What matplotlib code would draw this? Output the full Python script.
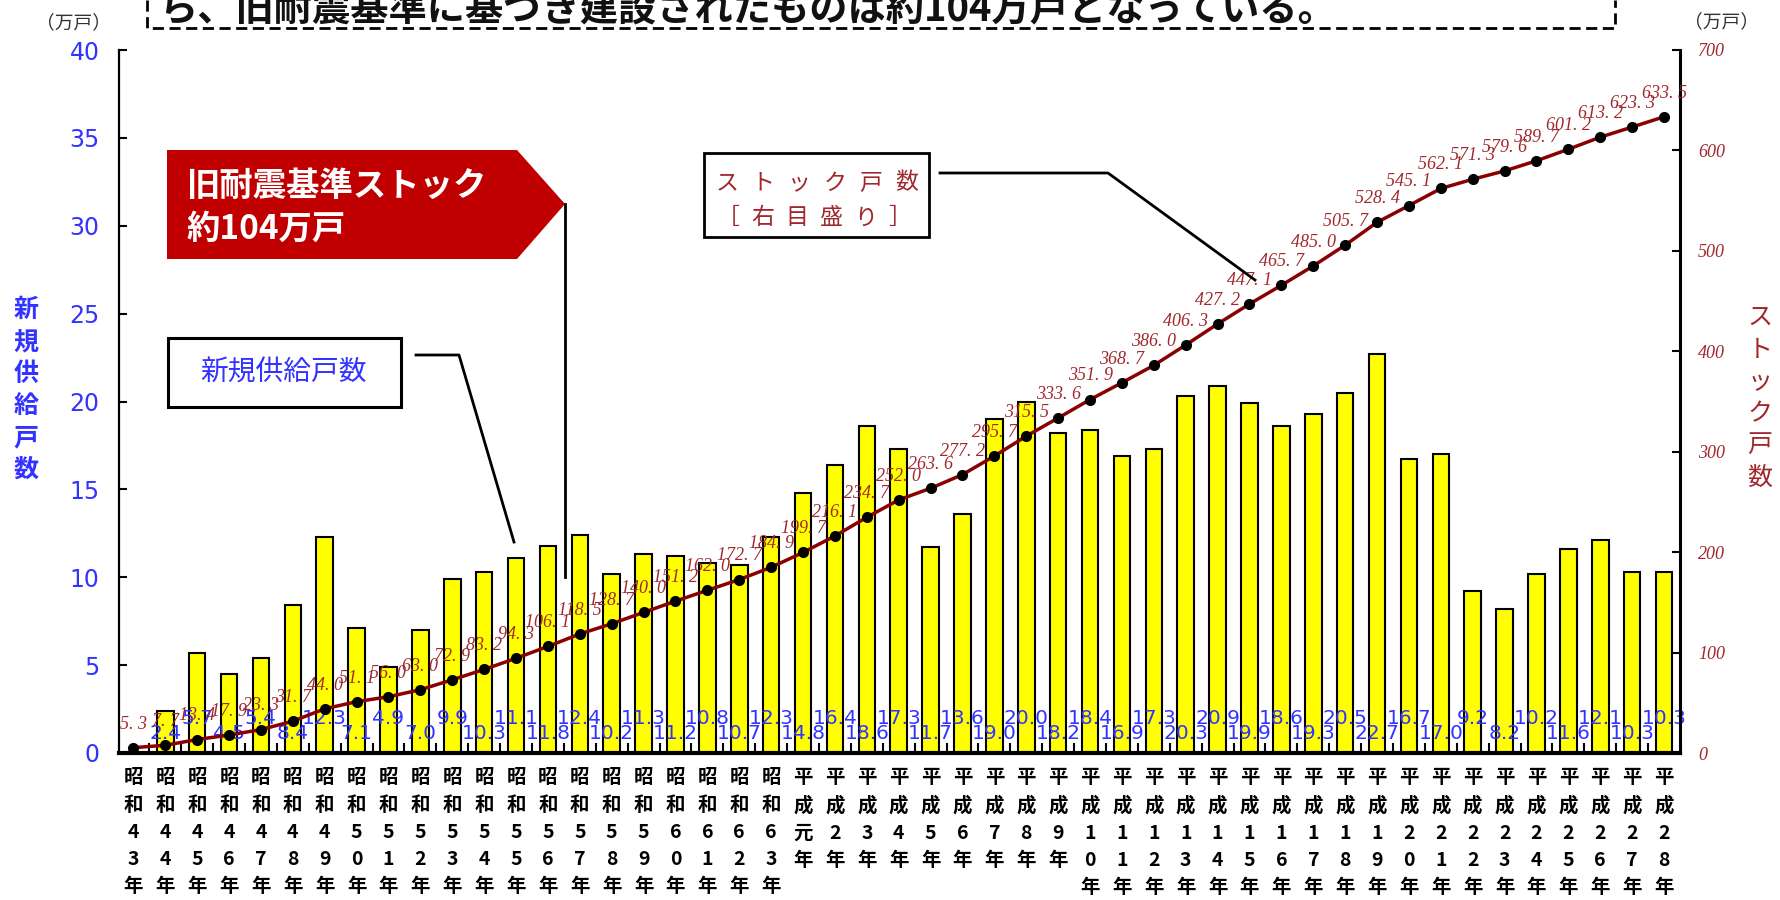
import numpy as np
import matplotlib
matplotlib.use('Agg')
import matplotlib.pyplot as plt
import matplotlib.patches as patches

plt.rcParams['font.family'] = ['Noto Sans CJK JP', 'DejaVu Sans']

# 年次（昭和43年〜平成28年）
showa_years = ['昭和%d年' % y for y in range(43, 64)]
heisei_years = ['平成元年'] + ['平成%d年' % y for y in range(2, 29)]
years = showa_years + heisei_years

# 新規供給戸数（万戸）  昭和43年は棒なし
new_supply = [np.nan, 2.4, 5.7, 4.5, 5.4, 8.4, 12.3, 7.1, 4.9, 7.0, 9.9,
              10.3, 11.1, 11.8, 12.4, 10.2, 11.3, 11.2, 10.8, 10.7, 12.3,
              14.8, 16.4, 18.6, 17.3, 11.7, 13.6, 19.0, 20.0, 18.2, 18.4,
              16.9, 17.3, 20.3, 20.9, 19.9, 18.6, 19.3, 20.5, 22.7, 16.7,
              17.0, 9.2, 8.2, 10.2, 11.6, 12.1, 10.3, 10.3]

# ストック戸数（万戸）
stock = [5.3, 7.7, 13.4, 17.9, 23.3, 31.7, 44.0, 51.1, 56.0, 63.0,
         72.9, 83.2, 94.3, 106.1, 118.5, 128.7, 140.0, 151.2, 162.0, 172.7,
         184.9, 199.7, 216.1, 234.7, 252.0, 263.6, 277.2, 295.7, 315.5, 333.6,
         351.9, 368.7, 386.0, 406.3, 427.2, 447.1, 465.7, 485.0, 505.7, 528.4,
         545.1, 562.1, 571.3, 579.6, 589.7, 601.2, 613.2, 623.3, 633.5]

BLUE = '#3333FF'
DARKRED = '#8B0000'
LABELRED = '#A0282D'

W, H = 1781, 900
fig = plt.figure(figsize=(W / 100, H / 100), dpi=100)
ax = fig.add_axes([119 / W, 1 - 753 / H, (1680 - 119) / W, (753 - 50) / H])
ax2 = ax.twinx()

x = np.arange(len(years))
sup = np.array(new_supply, dtype=float)
ok = ~np.isnan(sup)

# bars
ax.bar(x[ok], sup[ok], width=0.52, color='#FFFF00', edgecolor='black', linewidth=1.5, zorder=2)
for i in x[ok]:
    off = 25 if i % 2 == 0 else 14
    ax.annotate('%.1f' % sup[i], (i, 0), xytext=(0, off), textcoords='offset points',
                ha='center', va='center', fontsize=14.5, color=BLUE,
                family='DejaVu Sans', zorder=4)

ax.set_xlim(-0.45, 48.5)
ax.set_ylim(0, 40)
ax.set_yticks(range(0, 41, 5))
ax.set_xticks(x)
ax.set_xticklabels(['\n'.join(s) for s in years], fontsize=14, linespacing=1.55,
                   va='top', fontweight='bold')
ax.set_xticks(x[:-1] + 0.5, minor=True)
ax.tick_params(axis='x', which='major', length=0, pad=11)
ax.tick_params(axis='x', which='minor', direction='in', length=7, width=1.5)
ax.tick_params(axis='y', direction='in', length=6, width=1.5, pad=14,
               labelsize=17, labelcolor=BLUE)
for lbl in ax.get_yticklabels():
    lbl.set_fontfamily('DejaVu Sans')

ax.spines['top'].set_visible(False)
ax.spines['left'].set_linewidth(1.6)
ax.spines['bottom'].set_linewidth(3)
ax.spines['right'].set_visible(False)

# stock line
ax2.plot(x, stock, color=DARKRED, lw=2.5, marker='o', markersize=7,
         markerfacecolor='black', markeredgecolor='black', zorder=3)
for i, v in enumerate(stock):
    ax2.annotate(('%.1f' % v).replace('.', '. '), (i, v), xytext=(0, 17),
                 textcoords='offset points', ha='center', va='center',
                 fontsize=13, color=LABELRED, family='Liberation Serif',
                 style='italic', zorder=5)
ax2.set_ylim(0, 700)
ax2.set_yticks(range(0, 701, 100))
ax2.tick_params(axis='y', direction='in', length=6, width=1.5, pad=13,
                labelsize=13, labelcolor=LABELRED)
for lbl in ax2.get_yticklabels():
    lbl.set_fontfamily('Liberation Serif')
    lbl.set_fontstyle('italic')
for s in ['top', 'left', 'bottom']:
    ax2.spines[s].set_visible(False)
ax2.spines['right'].set_linewidth(2.2)

# overlay in pixel coordinates for boxes and callouts
ov = fig.add_axes([0, 0, 1, 1])
ov.set_xlim(0, W)
ov.set_ylim(H, 0)
ov.axis('off')
ov.set_zorder(10)

# clipped heading box at the top
ov.text(159, 21, 'ら、旧耐震基準に基づき建設されたものは約104万戸となっている。',
        fontsize=27.5, fontweight='bold', ha='left', va='baseline', color='#111111')
ov.plot([147, 147, 1615, 1615], [0, 28, 28, 0], color='black', lw=2,
        linestyle=(0, (4, 2)))

# unit labels
ov.text(74, 23, '（万戸）', fontsize=13.5, ha='center', va='center', color='#333333')
ov.text(1722, 22, '（万戸）', fontsize=13.5, ha='center', va='center', color='#333333')

# vertical axis titles
for k, ch in enumerate('新規供給戸数'):
    ov.text(26, 310 + 32 * k, ch, fontsize=18, ha='center', va='center',
            color=BLUE, fontweight='bold')
for k, ch in enumerate('ストック戸数'):
    ov.text(1760, 318 + 32 * k, ch, fontsize=18, ha='center', va='center',
            color=LABELRED)

# red arrow callout
ov.add_patch(patches.Polygon([(167, 150), (517, 150), (565, 204), (517, 259), (167, 259)],
                             closed=True, facecolor='#C00000', edgecolor='none'))
ov.text(187, 186, '旧耐震基準ストック', fontsize=24, fontweight='bold', color='white',
        ha='left', va='center')
ov.text(187, 229, '約104万戸', fontsize=24, fontweight='bold', color='white',
        ha='left', va='center')
ov.plot([565, 565], [204, 577], color='black', lw=2)

# new supply callout
ov.add_patch(patches.Rectangle((168, 338), 233, 69, facecolor='white',
                               edgecolor='black', lw=2.2))
ov.text(284, 373, '新規供給戸数', fontsize=20, ha='center', va='center', color=BLUE)
ov.plot([416, 459, 514], [355, 355, 542], color='black', lw=2)

# stock callout
ov.add_patch(patches.Rectangle((704, 153), 225, 84, facecolor='white',
                               edgecolor='black', lw=2))
for k, ch in enumerate('ストック戸数'):
    ov.text(727 + 36 * k, 183, ch, fontsize=16.5, ha='center', va='center', color=LABELRED)
for k, ch in enumerate('［右目盛り］'):
    ov.text(728 + 34.4 * k, 218, ch, fontsize=16.5, ha='center', va='center', color=LABELRED)
ov.plot([940, 1108, 1255], [173, 173, 280], color='black', lw=2)

fig.savefig('out.png', dpi=100)
